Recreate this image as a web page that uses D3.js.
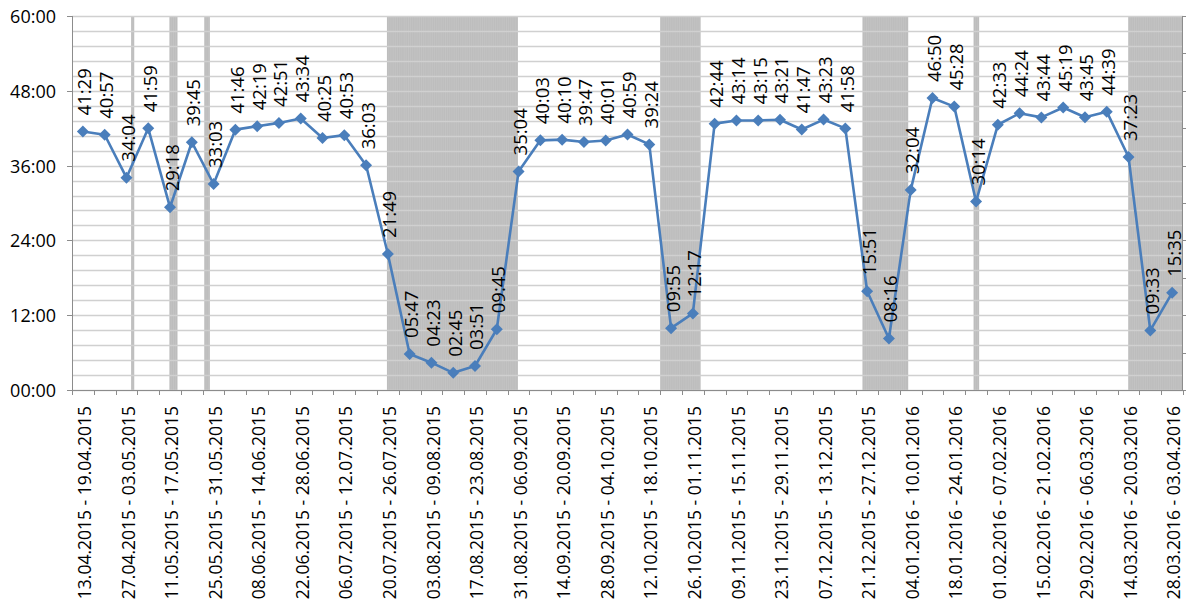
<!DOCTYPE html>
<html lang="en">
<head>
<meta charset="utf-8">
<title>Weekly times</title>
<script src="https://d3js.org/d3.v7.min.js"></script>
<style>
  body, html { margin: 0; background: #fff; }
  svg { display: block; font-family: "Open Sans", "Noto Sans", sans-serif; }
</style>
</head>
<body>
<svg width="1186" height="606"></svg>
<script>
// every week, labels shown every other one
var weeks = [
  "13.04.2015 - 19.04.2015", "20.04.2015 - 26.04.2015", "27.04.2015 - 03.05.2015", "04.05.2015 - 10.05.2015",
  "11.05.2015 - 17.05.2015", "18.05.2015 - 24.05.2015", "25.05.2015 - 31.05.2015", "01.06.2015 - 07.06.2015",
  "08.06.2015 - 14.06.2015", "15.06.2015 - 21.06.2015", "22.06.2015 - 28.06.2015", "29.06.2015 - 05.07.2015",
  "06.07.2015 - 12.07.2015", "13.07.2015 - 19.07.2015", "20.07.2015 - 26.07.2015", "27.07.2015 - 02.08.2015",
  "03.08.2015 - 09.08.2015", "10.08.2015 - 16.08.2015", "17.08.2015 - 23.08.2015", "24.08.2015 - 30.08.2015",
  "31.08.2015 - 06.09.2015", "07.09.2015 - 13.09.2015", "14.09.2015 - 20.09.2015", "21.09.2015 - 27.09.2015",
  "28.09.2015 - 04.10.2015", "05.10.2015 - 11.10.2015", "12.10.2015 - 18.10.2015", "19.10.2015 - 25.10.2015",
  "26.10.2015 - 01.11.2015", "02.11.2015 - 08.11.2015", "09.11.2015 - 15.11.2015", "16.11.2015 - 22.11.2015",
  "23.11.2015 - 29.11.2015", "30.11.2015 - 06.12.2015", "07.12.2015 - 13.12.2015", "14.12.2015 - 20.12.2015",
  "21.12.2015 - 27.12.2015", "28.12.2015 - 03.01.2016", "04.01.2016 - 10.01.2016", "11.01.2016 - 17.01.2016",
  "18.01.2016 - 24.01.2016", "25.01.2016 - 31.01.2016", "01.02.2016 - 07.02.2016", "08.02.2016 - 14.02.2016",
  "15.02.2016 - 21.02.2016", "22.02.2016 - 28.02.2016", "29.02.2016 - 06.03.2016", "07.03.2016 - 13.03.2016",
  "14.03.2016 - 20.03.2016", "21.03.2016 - 27.03.2016", "28.03.2016 - 03.04.2016"
];
var times = [
  "41:29", "40:57", "34:04", "41:59", "29:18", "39:45", "33:03", "41:46", "42:19", "42:51",
  "43:34", "40:25", "40:53", "36:03", "21:49", "05:47", "04:23", "02:45", "03:51", "09:45",
  "35:04", "40:03", "40:10", "39:47", "40:01", "40:59", "39:24", "09:55", "12:17", "42:44",
  "43:14", "43:15", "43:21", "41:47", "43:23", "41:58", "15:51", "08:16", "32:04", "46:50",
  "45:28", "30:14", "42:33", "44:24", "43:44", "45:19", "43:45", "44:39", "37:23", "09:33",
  "15:35"
];
// shaded periods, in days counted from 13.04.2015
var shadeStart = [19, 31.3, 42.5, 101.2, 189, 254, 289.7, 339.4];
var shadeEnd   = [20, 33.9, 44.3, 143.3, 202, 268.7, 291.5, 357];
var yTicks = ["00:00", "12:00", "24:00", "36:00", "48:00", "60:00"];

function toMin(s) { var p = s.split(":"); return +p[0] + p[1] / 60; }

var svg = d3.select("svg");
var pLeft = 72, pRight = 1183, pTop = 16, pBottom = 390;

var x = d3.scaleBand().domain(d3.range(weeks.length)).range([pLeft, pRight]).padding(0);
var xDay = d3.scaleLinear().domain([0, weeks.length * 7]).range([pLeft, pRight]);
var y = d3.scaleLinear().domain([0, 60]).range([pBottom, pTop]);

// shaded bands
var bands = svg.append("g");
shadeStart.forEach(function(s, i) {
  bands.append("rect")
    .attr("x", xDay(s)).attr("y", pTop)
    .attr("width", xDay(shadeEnd[i]) - xDay(s)).attr("height", pBottom - pTop)
    .attr("fill", "#bdbdbd");
  // thin lighter stripes inside the band
  for (var d = s + 0.6; d < shadeEnd[i] - 0.2; d += 0.7) {
    bands.append("line")
      .attr("x1", xDay(d)).attr("x2", xDay(d))
      .attr("y1", pTop).attr("y2", pBottom)
      .attr("stroke", "#c8c8c8").attr("stroke-width", 0.5);
  }
});

// gridlines every 2:24
svg.append("g").selectAll("line")
  .data(d3.range(0, 60.01, 2.4))
  .enter().append("line")
  .attr("x1", pLeft).attr("x2", pRight)
  .attr("y1", function(d) { return Math.round(y(d)) + 0.5; })
  .attr("y2", function(d) { return Math.round(y(d)) + 0.5; })
  .attr("stroke", "#d0d0d0").attr("stroke-width", 1.3);

// y axis
var yAxis = svg.append("g");
yAxis.append("line").attr("x1", pLeft + 0.5).attr("x2", pLeft + 0.5).attr("y1", pTop).attr("y2", pBottom)
  .attr("stroke", "#8c8c8c");
yTicks.forEach(function(t) {
  var yy = Math.round(y(toMin(t))) + 0.5;
  yAxis.append("line").attr("x1", pLeft - 5).attr("x2", pLeft).attr("y1", yy).attr("y2", yy).attr("stroke", "#8c8c8c");
  yAxis.append("text").attr("x", 56).attr("y", yy).attr("dy", "0.35em")
    .attr("text-anchor", "end").attr("font-size", 18).attr("fill", "#000")
    .text(t);
});

// secondary axis on the right (no labels)
var rAxis = svg.append("g");
rAxis.append("line").attr("x1", pRight - 0.5).attr("x2", pRight - 0.5).attr("y1", pTop).attr("y2", pBottom)
  .attr("stroke", "#8c8c8c");
d3.range(0, 11).forEach(function(k) {
  var yy = Math.round(pTop + k * (pBottom - pTop) / 10) + 0.5;
  rAxis.append("line").attr("x1", pRight).attr("x2", pRight + 5).attr("y1", yy).attr("y2", yy).attr("stroke", "#8c8c8c");
});

// x axis
var xAxis = svg.append("g");
xAxis.append("line").attr("x1", pLeft).attr("x2", pRight).attr("y1", pBottom + 0.5).attr("y2", pBottom + 0.5)
  .attr("stroke", "#8c8c8c");
d3.range(weeks.length + 1).forEach(function(i) {
  var xx = Math.round(pLeft + i * x.bandwidth()) + 0.5;
  xAxis.append("line").attr("x1", xx).attr("x2", xx).attr("y1", pBottom).attr("y2", pBottom + 5).attr("stroke", "#8c8c8c");
});
xAxis.selectAll("text")
  .data(weeks.filter(function(d, i) { return i % 2 === 0; }))
  .enter().append("text")
  .attr("transform", function(d, j) {
    return "translate(" + (x(j * 2) + x.bandwidth() / 2 + 2) + ",406) rotate(-90)";
  })
  .attr("dy", "0.35em")
  .attr("text-anchor", "end").attr("font-size", 17.5).attr("fill", "#000")
  .text(function(d) { return d; });

// line
var line = d3.line()
  .x(function(d, i) { return x(i) + x.bandwidth() / 2; })
  .y(function(d) { return y(toMin(d)); });

svg.append("path").datum(times)
  .attr("d", line)
  .attr("fill", "none").attr("stroke", "#4a7ebb").attr("stroke-width", 2.6)
  .attr("stroke-linejoin", "round");

svg.append("g").selectAll("path")
  .data(times).enter().append("path")
  .attr("d", d3.symbol().type(d3.symbolSquare).size(72))
  .attr("transform", function(d, i) {
    return "translate(" + (x(i) + x.bandwidth() / 2) + "," + y(toMin(d)) + ") rotate(45)";
  })
  .attr("fill", "#4a7ebb");

// data labels
svg.append("g").selectAll("text")
  .data(times).enter().append("text")
  .attr("transform", function(d, i) {
    return "translate(" + (x(i) + x.bandwidth() / 2 + 2) + "," + (y(toMin(d)) - 16) + ") rotate(-90)";
  })
  .attr("dy", "0.35em")
  .attr("text-anchor", "start").attr("font-size", 18.5).attr("fill", "#000")
  .text(function(d) { return d; });
</script>
</body>
</html>
